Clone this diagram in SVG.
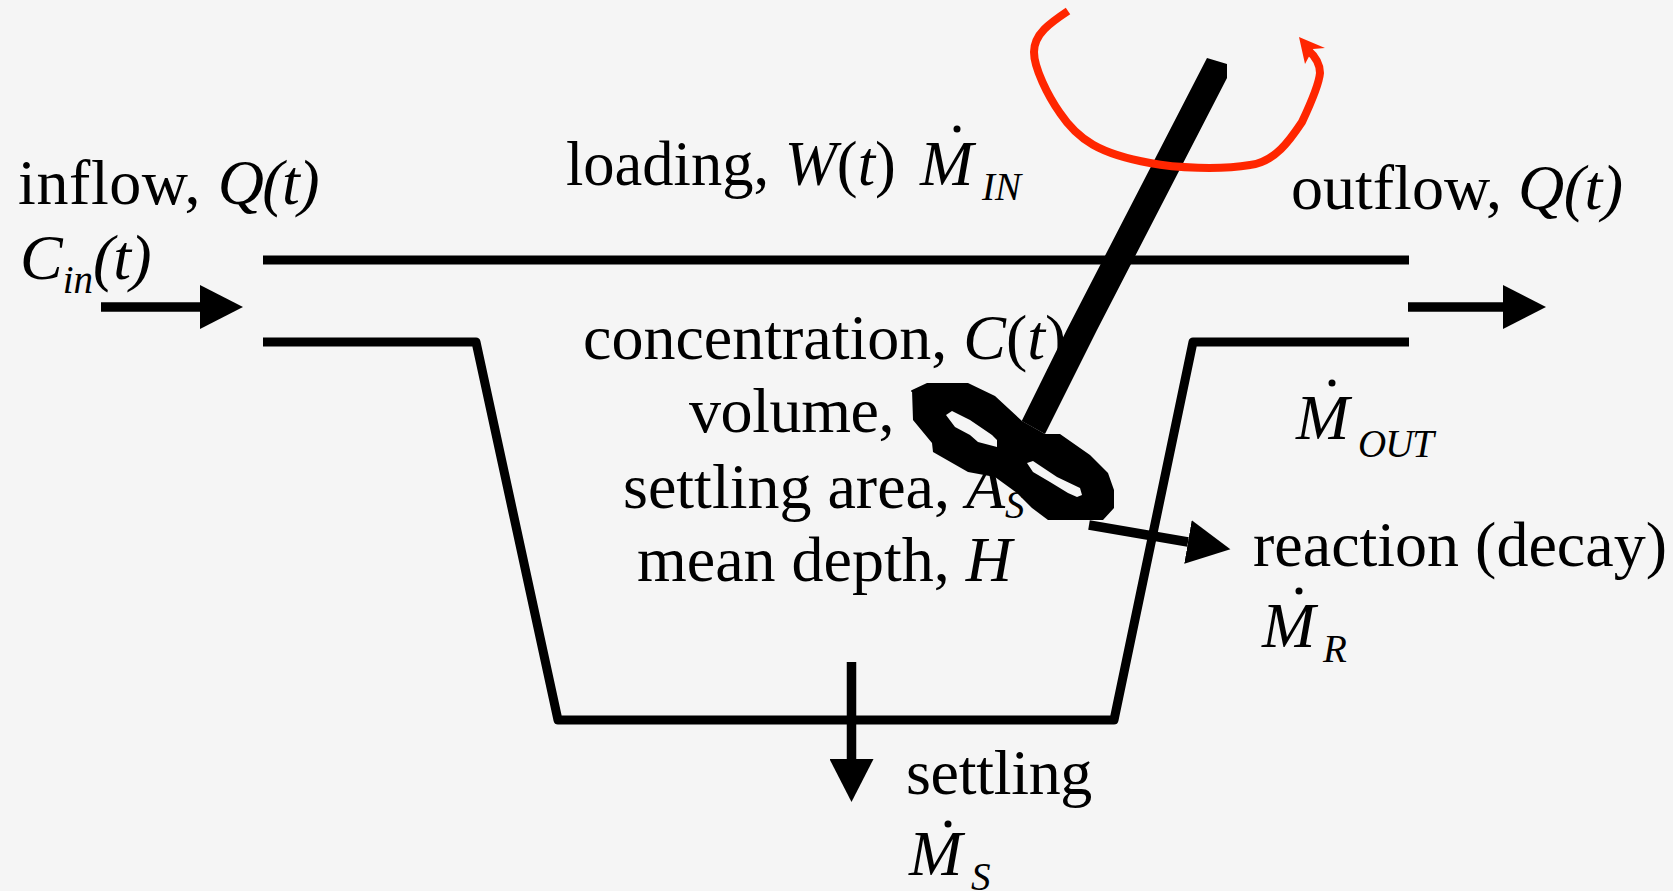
<svg xmlns="http://www.w3.org/2000/svg" width="1673" height="891" viewBox="0 0 1673 891">
<style>
text{font-family:"Liberation Serif","Times New Roman",serif;font-size:64px;fill:#000}
.i{font-style:italic}
.s{font-size:39px;font-style:italic}
.w{fill:none;stroke:#000;stroke-width:9;stroke-linejoin:round}
.a{fill:none;stroke:#000;stroke-width:9.5}
</style>
<defs>
<marker id="ah" markerUnits="userSpaceOnUse" markerWidth="44" markerHeight="44" refX="0" refY="22" orient="auto"><path d="M0 0L43 22L0 44Z" fill="#000"/></marker>
</defs>
<rect width="1673" height="891" fill="#f5f5f5"/>
<g id="labels">
<text x="18" y="204"><tspan letter-spacing="0.600">inflow, </tspan><tspan class="i" letter-spacing="-1.600">Q(t)</tspan></text>
<text x="20" y="279" class="i">C<tspan class="s" dy="14">in</tspan><tspan dy="-14" letter-spacing="-1">(t)</tspan></text>
<text x="566" y="185" style="font-size:62.500px">loading, <tspan class="i">W</tspan>(<tspan class="i">t</tspan>)</text>
<g id="m-in"><text x="920" y="185" class="i">M</text><text x="982" y="200" class="s">IN</text><circle cx="957" cy="129" r="3.500"/></g>
<text x="1291" y="209">outflow, <tspan class="i" letter-spacing="-0.500">Q(t)</tspan></text>
<text x="583" y="359">concentration, <tspan class="i">C</tspan>(<tspan class="i">t</tspan>)</text>
<text x="689" y="432" letter-spacing="-0.400">volume, <tspan class="i" dx="-2">V</tspan></text>
<text x="623" y="508">settling area, <tspan class="i">A</tspan><tspan class="s" dy="10">S</tspan></text>
<text x="637" y="581">mean depth, <tspan class="i">H</tspan></text>
<g id="m-out"><text x="1296" y="439" class="i">M</text><text x="1358" y="457" class="s" letter-spacing="-1">OUT</text><circle cx="1332" cy="383" r="3.500"/></g>
<text x="1253" y="566">reaction (decay)</text>
<g id="m-r"><text x="1262" y="647" class="i">M</text><text x="1323" y="662" class="s">R</text><circle cx="1299" cy="591" r="3.500"/></g>
<text x="906" y="794" letter-spacing="-0.300">settling</text>
<g id="m-s"><text x="909" y="875" class="i">M</text><text x="971" y="890" class="s">S</text><circle cx="948" cy="824" r="3.500"/></g>
</g>
<g id="tank">
<path class="w" d="M263 260H1409"/>
<path class="w" d="M263 342H476L558 720H1114L1193 342H1409"/>
</g>
<g id="mixer">
<path d="M1207 58L1227 64V78L1097 330L1045 434L1021.700 421L1066.700 330Z" fill="#000"/>
<path fill-rule="evenodd" fill="#000" d="M912 390L927 383H968L995 396L1022 421L1045 434H1060L1090 455L1108 473L1114 490V508L1103 520H1048L1032 508L1017 493L995 477L968 472L933 452L932 443L913 420Z
M946 415L952 411L970 420L992 435L997 440L997 447L978 442L970 435L955 427Z
M1027 463L1033 461L1057 477L1080 488L1082 495L1077 497L1068 493L1050 482L1033 472Z"/>
<path d="M1068 11C1050 23 1034 34 1034 52C1034 68 1048 96 1060 113C1078 140 1100 154 1150 163C1175 168 1220 170 1250 165C1275 162 1290 140 1302 122C1310 105 1319 85 1320 73C1320 65 1316 57 1308 50" fill="none" stroke="#ff2600" stroke-width="8"/>
<path d="M1299 37L1325 48L1313 49L1305 64Z" fill="#ff2600"/>
</g>
<g id="connectors">
<path class="a" d="M101 307H200" marker-end="url(#ah)"/>
<path class="a" d="M1408 307H1503" marker-end="url(#ah)"/>
<path class="a" d="M1089 525L1188 542" marker-end="url(#ah)"/>
<path class="a" d="M851.500 662V759" marker-end="url(#ah)"/>
</g>
</svg>
